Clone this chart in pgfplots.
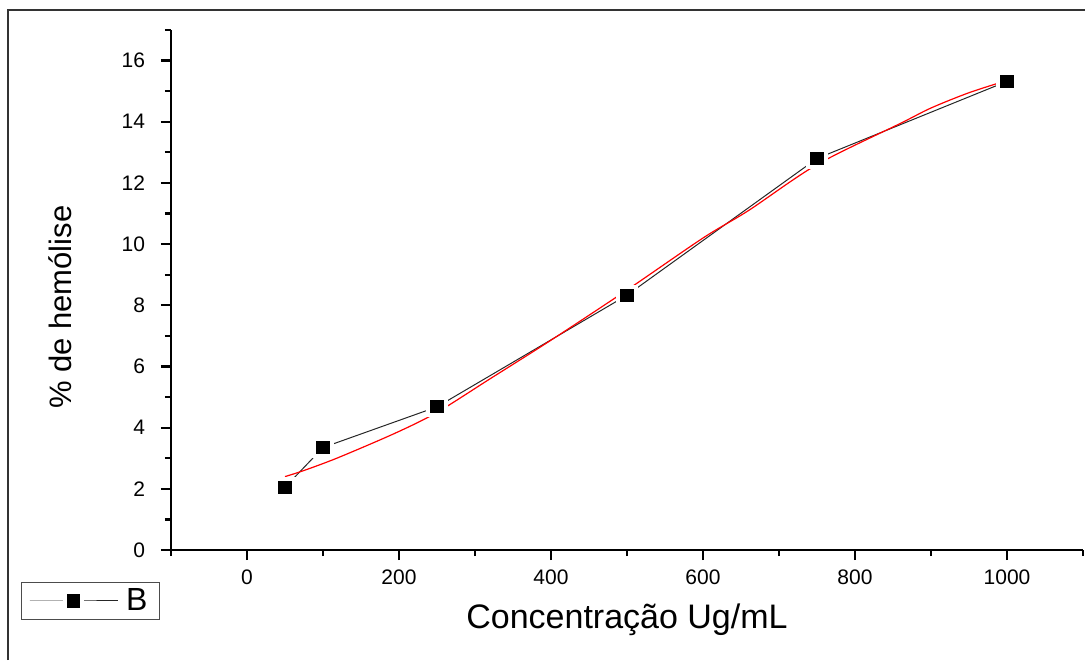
\documentclass[border=0pt]{standalone}
\usepackage{fontspec}
\setmainfont{Liberation Sans}
\usepackage{pgfplots}
\pgfplotsset{compat=1.18}

\begin{document}
\begin{tikzpicture}
\useasboundingbox (-85.5pt,-55pt) rectangle (457pt,275pt);
\begin{axis}[
    scale only axis,
    width=456pt,
    height=260pt,
    xmin=-100, xmax=1100,
    ymin=0, ymax=17,
    axis x line=bottom,
    axis y line=left,
    axis line style={-, line width=1.2pt},
    xtick={0,200,...,1000},
    ytick={0,2,...,16},
    minor xtick={-100,100,300,500,700,900,1100},
    minor ytick={1,3,...,17},
    tick align=outside,
    major tick length=5pt,
    minor tick length=3pt,
    every tick/.style={black, line width=1.1pt},
    tick label style={font=\fontsize{10.5}{12}\selectfont},
    xticklabel style={yshift=-1.5pt},
    yticklabel style={xshift=-4.5pt},
    /pgf/number format/assume math mode=true,
    /pgf/number format/1000 sep={},
    xlabel={Concentração Ug/mL},
    ylabel={\% de hemólise},
    xlabel style={at={(rel axis cs:0.5,-0.1346)}, anchor=center,
        font=\fontsize{17}{20}\selectfont},
    ylabel style={at={(rel axis cs:-0.122,0.467)}, anchor=center,
        font=\fontsize{15.5}{18}\selectfont},
    legend style={at={(rel axis cs:-0.012,-0.1346)}, anchor=south east,
        draw=black!70, line width=0.5pt, font=\fontsize{16}{18}\selectfont,
        inner xsep=4pt, inner ysep=1pt},
    legend cell align=left,
]
\addplot[black!85, line width=0.5pt, mark=square*, mark size=4.3pt,
    mark options={solid, fill=black, draw=white, line width=2pt},
    legend image code/.code={
        \draw[mark repeat=2, mark phase=2] plot coordinates {(0pt,0pt) (22pt,0pt) (44pt,0pt)};}]
coordinates {
(50,2.05) (100,3.35) (250,4.68) (500,8.33) (750,12.8) (1000,15.32)
};
\addlegendentry{\hspace{2pt}B}
\addplot[red, line width=0.6pt, smooth, no markers, forget plot] coordinates {
(50,2.40) (75,2.60) (120,3.02) (195,3.82) (250,4.50) (320,5.60) (400,6.86)
(500,8.50) (600,10.20) (660,11.10) (750,12.60) (860,13.95) (900,14.45)
(950,14.95) (1000,15.35)
};
\end{axis}
\draw[black!80, line width=1pt] (-81.5pt,-55pt) -- (-81.5pt,270pt) -- (457pt,270pt);
\end{tikzpicture}
\end{document}
